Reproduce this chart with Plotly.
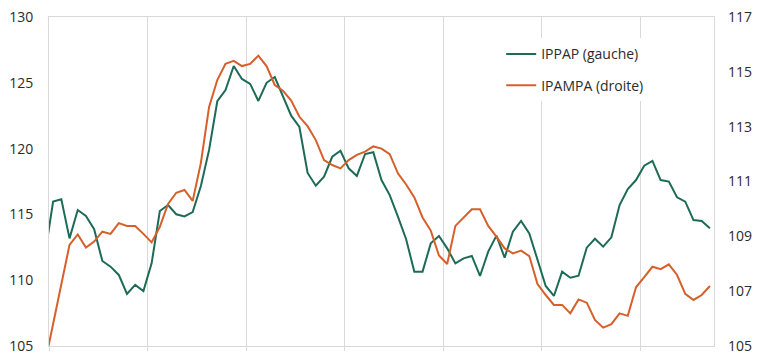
import plotly.graph_objects as go

# Monthly index (first point lies just before the visible range)
months = list(range(-1, 81))

ippap = [111.9,
         115.97, 116.15, 113.18, 115.33, 114.88, 113.87, 111.46, 111.03, 110.40, 108.95,
         109.64, 109.18, 111.28, 115.26, 115.71, 115.01, 114.85, 115.18, 117.16, 119.90,
         123.60, 124.45, 126.28, 125.29, 124.92, 123.62, 125.00, 125.44, 123.90, 122.50,
         121.64, 118.15, 117.18, 117.87, 119.38, 119.84, 118.50, 117.92, 119.59, 119.72,
         117.61, 116.47, 114.83, 113.11, 110.65, 110.65, 112.80, 113.36, 112.42, 111.28,
         111.66, 111.84, 110.32, 112.17, 113.39, 111.71, 113.69, 114.50, 113.56, 111.53,
         109.56, 108.80, 110.65, 110.19, 110.34, 112.47, 113.15, 112.55, 113.26, 115.71,
         116.93, 117.61, 118.70, 119.06, 117.61, 117.49, 116.30, 115.97, 114.57, 114.50,
         113.94]

ipampa = [104.36,
          105.76, 107.18, 108.69, 109.07, 108.59, 108.81, 109.17, 109.09, 109.48, 109.38,
          109.38, 109.09, 108.78, 109.35, 110.18, 110.59, 110.69, 110.29, 111.68, 113.72,
          114.70, 115.29, 115.40, 115.21, 115.29, 115.59, 115.21, 114.52, 114.31, 113.95,
          113.36, 113.02, 112.51, 111.78, 111.60, 111.48, 111.78, 111.97, 112.09, 112.28,
          112.20, 112.00, 111.30, 110.89, 110.42, 109.69, 109.21, 108.30, 107.99, 109.38,
          109.70, 109.99, 109.99, 109.38, 108.99, 108.56, 108.38, 108.48, 108.28, 107.26,
          106.86, 106.50, 106.50, 106.19, 106.70, 106.58, 105.95, 105.67, 105.80, 106.19,
          106.10, 107.14, 107.51, 107.89, 107.80, 107.98, 107.59, 106.90, 106.68, 106.86,
          107.19]

left_ticks = [105, 110, 115, 120, 125, 130]
right_ticks = [105, 107, 109, 111, 113, 115, 117]

GREEN = "#1d6b57"
ORANGE = "#d65f2a"
GRID = "#d9d9d9"
TEXT = "#2b2b2b"
FONT = "Open Sans"

fig = go.Figure()
fig.add_trace(go.Scatter(x=months, y=ippap, mode="lines", name="IPPAP (gauche)",
                         line=dict(color=GREEN, width=2), legendgroup="a"))
fig.add_trace(go.Scatter(x=months, y=ipampa, mode="lines", name="IPAMPA (droite)",
                         line=dict(color=ORANGE, width=2), yaxis="y2", legendgroup="b"))

fig.update_layout(
    width=769, height=355,
    margin=dict(l=49, r=55, t=17, b=9, autoexpand=False),
    paper_bgcolor="white", plot_bgcolor="white",
    font=dict(family=FONT, size=14, color=TEXT),
    showlegend=True,
    legend=dict(x=0.68, y=0.935, xanchor="left", yanchor="top",
                bgcolor="white", borderwidth=0, tracegroupgap=10,
                font=dict(family=FONT, size=14, color=TEXT)),
    xaxis=dict(range=[-0.5, 80.5], tickmode="linear", tick0=-0.5, dtick=12,
               showticklabels=False, showgrid=True, gridcolor=GRID, gridwidth=1,
               ticks="outside", ticklen=4, tickcolor=GRID, automargin=False,
               showline=True, linecolor=GRID, linewidth=1, mirror=True,
               zeroline=False),
    yaxis=dict(range=[105, 130], tickmode="array", tickvals=left_ticks,
               showgrid=False, zeroline=False, showline=True, linecolor=GRID,
               linewidth=1, mirror=True, ticks="", ticklabelstandoff=12,
               automargin=False,
               tickfont=dict(family=FONT, size=14, color=TEXT)),
    yaxis2=dict(range=[105, 117], tickmode="array", tickvals=right_ticks,
                overlaying="y", side="right", showgrid=False, zeroline=False,
                showline=False, ticks="", ticklabelstandoff=13, automargin=False,
                tickfont=dict(family=FONT, size=14, color=TEXT)),
)

fig.write_html("out.html")
